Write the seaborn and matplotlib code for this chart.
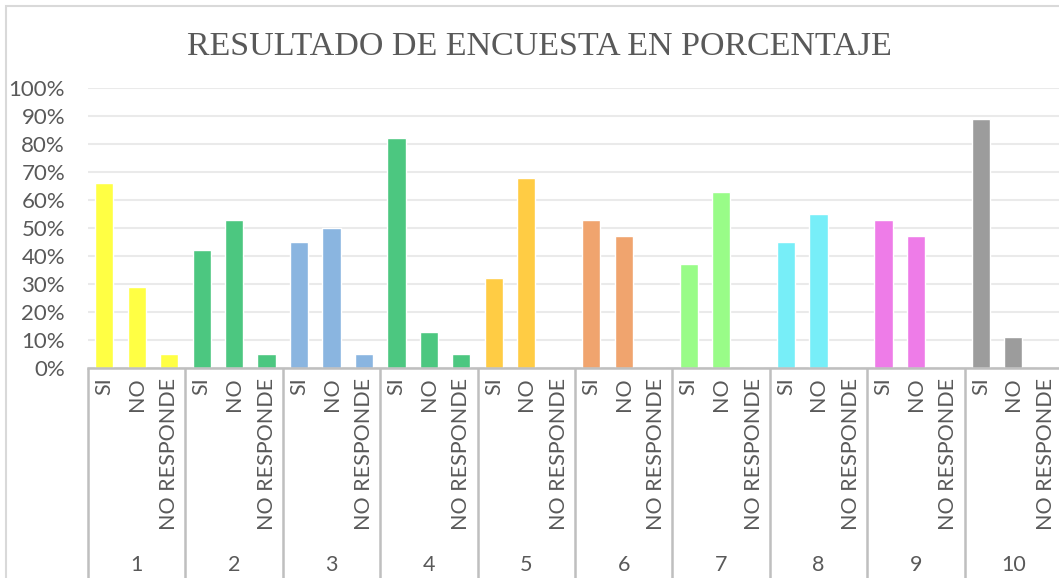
import matplotlib
matplotlib.use("Agg")
import matplotlib.pyplot as plt
import matplotlib.transforms as mtransforms
from matplotlib.patches import Rectangle
from matplotlib.ticker import PercentFormatter
import pandas as pd
import seaborn as sns

preguntas = ["1", "2", "3", "4", "5", "6", "7", "8", "9", "10"]
respuestas = ["SI", "NO", "NO RESPONDE"]
si = [0.66, 0.42, 0.45, 0.82, 0.32, 0.53, 0.37, 0.45, 0.53, 0.89]
no = [0.29, 0.53, 0.50, 0.13, 0.68, 0.47, 0.63, 0.55, 0.47, 0.11]
no_responde = [0.05, 0.05, 0.05, 0.05, 0.0, 0.0, 0.0, 0.0, 0.0, 0.0]
colores = ["#FFFF44", "#4CC780", "#8AB5E0", "#4CC780", "#FFCC44",
           "#F0A46E", "#99FC88", "#77EEF8", "#EE7CE8", "#9C9C9C"]

filas = []
for i, p in enumerate(preguntas):
    for r, v in zip(respuestas, [si[i], no[i], no_responde[i]]):
        filas.append({"clave": p + " " + r, "pregunta": p, "respuesta": r, "valor": v})
df = pd.DataFrame(filas)

sns.set_style("white")
plt.rcParams["font.family"] = ["Lato", "DejaVu Sans"]
gris = "#595959"

fig = plt.figure(figsize=(10.59, 5.78), dpi=100)
ax = fig.add_axes([88 / 1059, 1 - 368 / 578, 974 / 1059, 280 / 578])

sns.barplot(data=df, x="clave", y="valor", hue="pregunta", palette=colores,
            dodge=False, width=0.56, saturation=1, legend=False, ax=ax)

ax.set_ylim(0, 1)
ax.set_yticks([i / 10 for i in range(11)])
ax.yaxis.set_major_formatter(PercentFormatter(1.0, decimals=0))
ax.yaxis.grid(True, color="#EAEAEA", linewidth=1.5)
ax.set_axisbelow(True)
ax.tick_params(axis="y", length=0, pad=16.5, labelsize=16, labelcolor=gris)

ax.set_xlabel("")
ax.set_ylabel("")
ax.set_xticks(range(len(df)))
ax.set_xticklabels(df["respuesta"], rotation=90, va="top", ha="center")
ax.tick_params(axis="x", which="major", length=0, pad=7, labelsize=15.5, labelcolor=gris)
ax.set_xticks([i * 3 - 0.5 for i in range(len(preguntas) + 1)], minor=True)
ax.tick_params(axis="x", which="minor", bottom=True, length=152, width=1.8,
               color="#BFBFBF", direction="out")

for s in ["top", "right", "left"]:
    ax.spines[s].set_visible(False)
ax.spines["bottom"].set_color("#BFBFBF")
ax.spines["bottom"].set_linewidth(1.8)

trans = mtransforms.blended_transform_factory(ax.transData, ax.transAxes)
for i, p in enumerate(preguntas):
    ax.text(i * 3 + 1, -0.705, p, transform=trans, ha="center", va="center",
            fontsize=15.5, color=gris)

fig.text(539 / 1059, 1 - 47 / 578, "RESULTADO DE ENCUESTA EN PORCENTAJE",
         ha="center", va="center", fontsize=24.5, color=gris, family="Liberation Serif")

fig.patches.append(Rectangle((6 / 1059, -0.1), 1.2, 1.1 - 6 / 578, fill=False,
                             edgecolor="#D9D9D9", linewidth=1.5, transform=fig.transFigure))
fig.text(548 / 1059, 1 + 6 / 578, "porcentajes.", ha="center", va="baseline",
         fontsize=14, fontweight="bold", color="black", family="Liberation Serif")

fig.savefig("out.png", dpi=100)
